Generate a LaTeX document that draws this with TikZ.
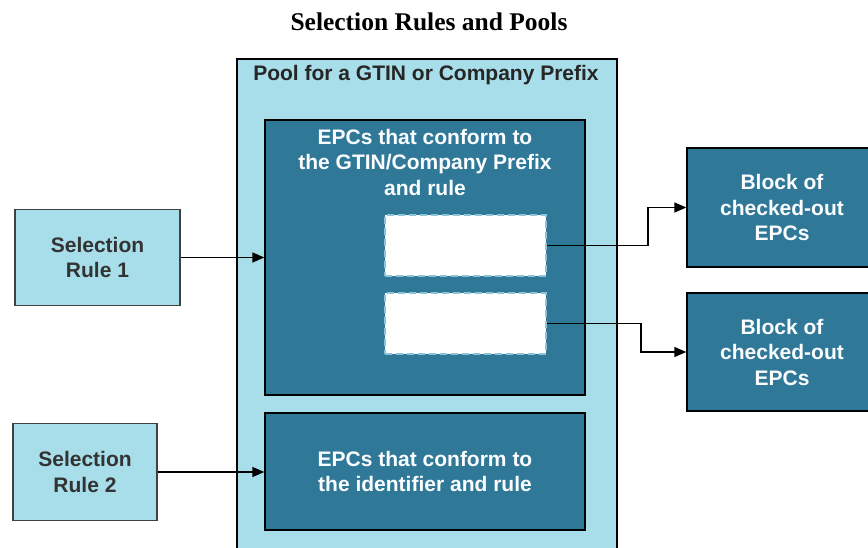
\documentclass[tikz,border=0pt]{standalone}
\usepackage{fontspec}
\setmainfont{Liberation Serif}
\setsansfont{Liberation Sans}
\usetikzlibrary{arrows.meta}
\definecolor{pool_blue}{HTML}{A8DDEA}
\definecolor{epc_teal}{HTML}{2F7898}
\definecolor{slot_edge}{HTML}{8CC4D8}

\begin{document}
\begin{tikzpicture}[x=1pt,y=-1pt,
    box_text/.style={font=\sffamily\bfseries\fontsize{21}{25.5}\selectfont,align=center},
    rule_node/.style={box_text,rectangle,fill=pool_blue,draw=black!75,line width=1.4pt,text=black!80,inner sep=0pt},
    epc_node/.style={box_text,rectangle,fill=epc_teal,draw=black,line width=1.4pt,text=white!95!pool_blue,inner sep=0pt},
    slot_node/.style={rectangle,fill=white,draw=slot_edge,line width=2.2pt,dash pattern=on 7pt off 4pt,inner sep=0pt},
    link/.style={draw=black,line width=1.5pt,-{Triangle[length=12pt,width=10pt]}}]

    \clip (0,0) rectangle (868,548);
    \node[font=\bfseries\fontsize{25.5}{30}\selectfont] (title) at (429,22) {Selection Rules and Pools};

    \node[rectangle,fill=pool_blue,draw=black,line width=1.4pt,minimum width=380pt,minimum height=497pt] (pool) at (427,307.5) {};
    \node[box_text,text=black!85] (pool_title) at (426,75) {Pool for a GTIN or Company Prefix};

    \node[epc_node,minimum width=320pt,minimum height=275pt] (epc_gtin) at (425,257.5) {};
    \node[box_text,text=white!95!pool_blue] (gtin_text) at (425,162) {EPCs that conform to\\the GTIN/Company Prefix\\and rule};
    \node[slot_node,minimum width=161pt,minimum height=61pt] (slot_1) at (465.5,245.5) {};
    \node[slot_node,minimum width=161pt,minimum height=61pt] (slot_2) at (465.5,323.5) {};
    \node[epc_node,minimum width=320pt,minimum height=117pt] (epc_id) at (425,471.5) {EPCs that conform to\\the identifier and rule};

    \node[rule_node,minimum width=165pt,minimum height=96pt] (rule_1) at (97.5,257.5) {Selection\\Rule 1};
    \node[rule_node,minimum width=144pt,minimum height=97pt] (rule_2) at (85,472) {Selection\\Rule 2};

    \node[epc_node,minimum width=190pt,minimum height=119pt] (block_1) at (782,207.5) {Block of\\checked-out\\EPCs};
    \node[epc_node,minimum width=190pt,minimum height=118pt] (block_2) at (782,352) {Block of\\checked-out\\EPCs};

    \draw[link] (rule_1.east) -- (rule_1.east -| epc_gtin.west);
    \draw[link] (rule_2.east) -- (rule_2.east -| epc_id.west);
    \draw[link] (slot_1.east) -- ++(101,0) |- (block_1.west);
    \draw[link] (slot_2.east) -- ++(94,0) |- (block_2.west);
\end{tikzpicture}
\end{document}
